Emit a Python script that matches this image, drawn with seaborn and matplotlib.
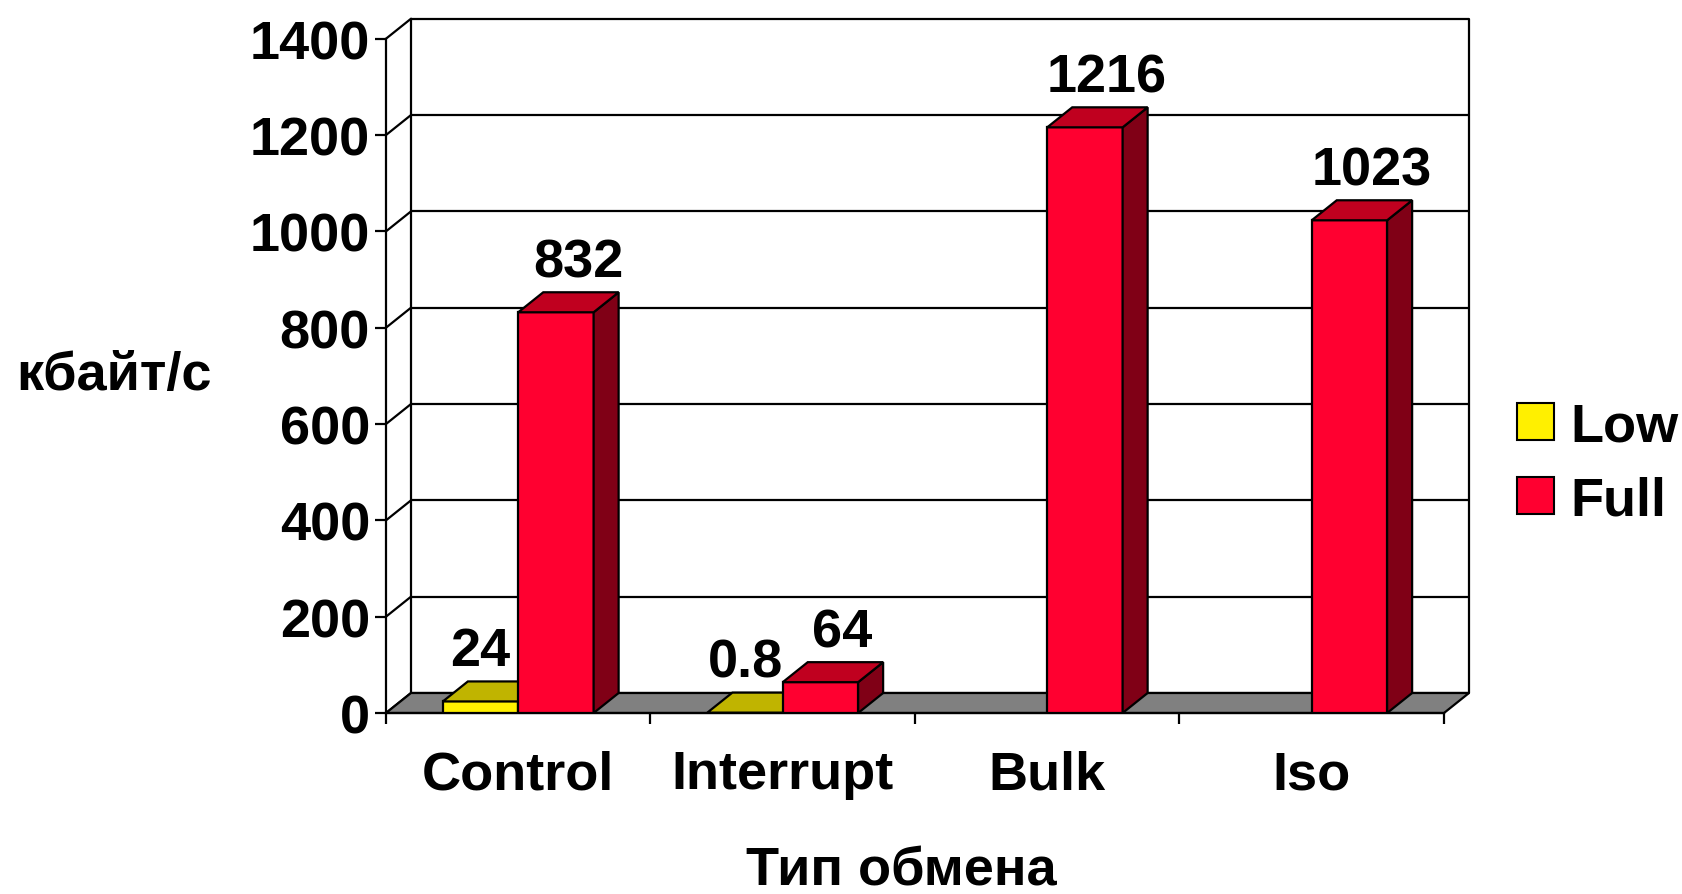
import numpy as np
import pandas as pd
import matplotlib
matplotlib.use("Agg")
import matplotlib.pyplot as plt
from matplotlib.patches import Polygon, Patch
import seaborn as sns

# Transfer rates (kB/s) by USB transfer type
categories = ["Control", "Interrupt", "Bulk", "Iso"]
modes = ["Low", "Full"]
low_speed = [24, 0.8, np.nan, np.nan]
full_speed = [832, 64, 1216, 1023]
y_ticks = [0, 200, 400, 600, 800, 1000, 1200, 1400]
y_label = "кбайт/с"
x_label = "Тип обмена"

# face colours: front, top, side
front_colors = {"Low": "#FFF000", "Full": "#FF0030"}
top_colors = {"Low": "#C0B400", "Full": "#C0001F"}
side_colors = {"Low": "#807800", "Full": "#800016"}

sns.set_theme(style="white")
plt.rcParams["font.family"] = ["Liberation Sans", "DejaVu Sans"]
plt.rcParams["font.weight"] = "bold"
for key in ["text.color", "axes.labelcolor", "xtick.color", "ytick.color"]:
    plt.rcParams[key] = "black"
FS = 39

W_PX, H_PX, DPI = 1683, 895, 100
fig = plt.figure(figsize=(W_PX / DPI, H_PX / DPI), dpi=DPI)
ax_left, ax_right, ax_top, ax_bottom = 386, 1444, 39.7, 714
ax = fig.add_axes([ax_left / W_PX, 1 - ax_bottom / H_PX,
                   (ax_right - ax_left) / W_PX, (ax_bottom - ax_top) / H_PX])

df = pd.DataFrame({
    "type": categories * 2,
    "mode": ["Low"] * len(categories) + ["Full"] * len(categories),
    "value": low_speed + full_speed,
}).dropna()

sns.barplot(data=df, x="type", y="value", hue="mode", order=categories,
            hue_order=modes, palette=front_colors, width=0.57, dodge=True,
            errorbar=None, saturation=1, edgecolor="black", linewidth=1.5,
            legend=False, ax=ax)

y_max = y_ticks[-1]
n_cat = len(categories)
ax.set_xlim(-0.5, n_cat - 0.5)
ax.set_ylim(0, y_max)

# depth of the pseudo-3D box, in pixels and in data units
DX_PX, DY_PX = 25, 20
ax_w_px = ax_right - ax_left
ax_h_px = ax_bottom - ax_top
dx = DX_PX / (ax_w_px / n_cat)
dy = DY_PX / (ax_h_px / y_max)

lw = 1.6
x0, x1 = -0.5, n_cat - 0.5

# back wall gridlines and frame
for v in y_ticks:
    ax.plot([x0 + dx, x1 + dx], [v + dy, v + dy], color="black", lw=lw,
            zorder=0.5, clip_on=False, solid_capstyle="butt")
    ax.plot([x0, x0 + dx], [v, v + dy], color="black", lw=lw,
            zorder=0.6, clip_on=False)
ax.plot([x0 + dx, x0 + dx], [dy, y_max + dy], color="black", lw=lw,
        zorder=0.6, clip_on=False)
ax.plot([x1 + dx, x1 + dx], [dy, y_max + dy], color="black", lw=lw,
        zorder=0.6, clip_on=False)

# floor
floor = Polygon([(x0, 0), (x1, 0), (x1 + dx, dy), (x0 + dx, dy)],
                closed=True, facecolor="#808080", edgecolor="black",
                lw=lw, zorder=1, clip_on=False)
ax.add_patch(floor)

# extrude each bar: top and right side faces, plus value label
bars = []
for mode, cont in zip(modes, ax.containers):
    for p in cont.patches:
        if np.isnan(p.get_height()):
            continue
        bars.append((p.get_x(), mode, p))
bars.sort(key=lambda b: b[0])

label_dx = {"Low": 0, "Full": 22}
for i, (bx, mode, p) in enumerate(bars):
    z = 3 + i * 0.1
    w = p.get_width()
    h = p.get_height()
    p.set_zorder(z)
    p.set_linewidth(lw)
    top = Polygon([(bx, h), (bx + w, h), (bx + w + dx, h + dy), (bx + dx, h + dy)],
                  closed=True, facecolor=top_colors[mode], edgecolor="black",
                  lw=lw, zorder=z, clip_on=False)
    side = Polygon([(bx + w, 0), (bx + w, h), (bx + w + dx, h + dy), (bx + w + dx, dy)],
                   closed=True, facecolor=side_colors[mode], edgecolor="black",
                   lw=lw, zorder=z, clip_on=False)
    ax.add_patch(side)
    ax.add_patch(top)
    ax.annotate(f"{h:g}", xy=(bx + w / 2, h),
                xytext=(label_dx[mode], DY_PX + 16), textcoords="offset pixels",
                ha="center", va="baseline", fontsize=FS, fontweight="bold",
                color="black", zorder=10, annotation_clip=False)

# axes, ticks and labels
for side_name in ["top", "right"]:
    ax.spines[side_name].set_visible(False)
for side_name in ["left", "bottom"]:
    ax.spines[side_name].set_color("black")
    ax.spines[side_name].set_linewidth(lw)
    ax.spines[side_name].set_zorder(2)

ax.set_yticks(y_ticks)
ax.set_yticklabels([str(v) for v in y_ticks])
ax.tick_params(axis="y", direction="out", length=8, width=lw, color="black",
               labelcolor="black", pad=3.5, labelsize=FS, left=True)
ax.set_xticks(range(n_cat))
ax.set_xticklabels(categories)
ax.set_xticks(np.arange(-0.5, n_cat, 1.0), minor=True)
ax.tick_params(axis="x", which="major", length=0, pad=26, labelsize=FS,
               labelcolor="black")
ax.tick_params(axis="x", which="minor", direction="out", length=8, width=lw,
               color="black", bottom=True)
for t in ax.get_xticklabels() + ax.get_yticklabels():
    t.set_fontweight("bold")

ax.set_ylabel(y_label, rotation=0, ha="center", va="center",
              fontsize=FS, fontweight="bold", color="black")
ax.yaxis.set_label_coords((114 - ax_left) / ax_w_px, (ax_bottom - 376) / ax_h_px)
ax.set_xlabel(x_label, fontsize=FS, fontweight="bold", color="black")
ax.xaxis.set_label_coords((901 - ax_left) / ax_w_px, (ax_bottom - 871) / ax_h_px)
ax.xaxis.label.set_va("center")

handles = [Patch(facecolor=front_colors[m], edgecolor="black", lw=1.5, label=m)
           for m in modes]
leg = ax.legend(handles=handles, loc="center left",
                bbox_to_anchor=(1517 / W_PX, 1 - 464.5 / H_PX),
                bbox_transform=fig.transFigure, frameon=False,
                handlelength=0.68, handleheight=0.68, handletextpad=0.3,
                labelspacing=0.45, borderaxespad=0, borderpad=0,
                prop={"weight": "bold", "size": FS})
for t in leg.get_texts():
    t.set_color("black")

fig.savefig("out.png", dpi=DPI, facecolor="white")
